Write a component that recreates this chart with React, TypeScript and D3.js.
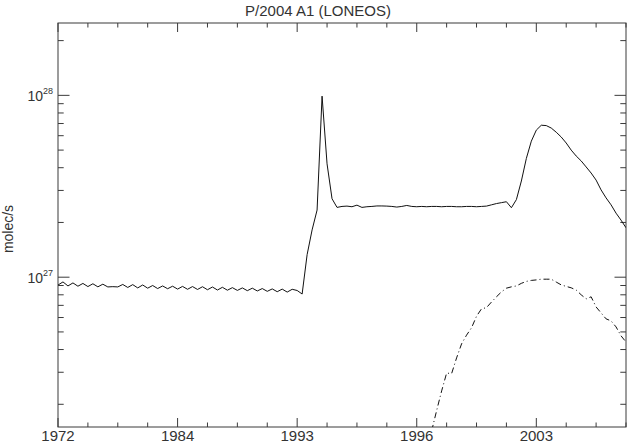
import { useEffect, useRef } from "react";
import * as d3 from "d3";

// production rates, in units of 1e27 molec/s, one sample per grid step
const UNIT = 1e27;
const solidValues = [
  0.905, 0.942, 0.895, 0.93, 0.892, 0.924, 0.888, 0.92, 0.885, 0.915,
  0.884, 0.887, 0.884, 0.912, 0.878, 0.91, 0.873, 0.906, 0.87, 0.9,
  0.866, 0.895, 0.864, 0.892, 0.86, 0.89, 0.858, 0.888, 0.856, 0.886,
  0.853, 0.883, 0.85, 0.88, 0.848, 0.876, 0.846, 0.873, 0.843, 0.87,
  0.84, 0.866, 0.836, 0.862, 0.832, 0.86, 0.828, 0.858, 0.845, 0.808,
  1.33, 1.82, 2.34, 9.9, 4.2, 2.7,
  2.42, 2.45, 2.46, 2.44, 2.49, 2.42, 2.44, 2.45, 2.465, 2.465, 2.46, 2.45,
  2.43, 2.45, 2.48, 2.45, 2.44,
  2.45, 2.44, 2.45, 2.45, 2.44, 2.45, 2.45, 2.44, 2.44, 2.45, 2.45, 2.44,
  2.45, 2.46,
  2.5, 2.54, 2.57, 2.6, 2.41,
  2.67, 3.38, 4.5, 5.6, 6.44, 6.85, 6.82, 6.61,
  6.27, 5.9, 5.47, 5.0, 4.64, 4.36, 4.04, 3.74, 3.42, 3.02, 2.73, 2.5, 2.25,
  2.06, 1.87,
];

const dashStart = 75;
const dashValues = [
  0.143, 0.185, 0.237, 0.297, 0.295, 0.36, 0.43, 0.48, 0.527, 0.61,
  0.67, 0.68, 0.73, 0.78, 0.83, 0.87, 0.885, 0.895, 0.925, 0.948,
  0.96, 0.966, 0.975, 0.975, 0.975, 0.94, 0.907, 0.89, 0.874, 0.85,
  0.8, 0.76, 0.78, 0.686, 0.636, 0.59, 0.575, 0.533, 0.476, 0.44,
];

const xTickIndex = [0, 24, 48, 72, 96];
const xTickLabels = ["1972", "1984", "1993", "1996", "2003"];
const xMinorStep = 6;
const yMajorExp = [27, 28];
const yDomain = [1.5e26, 2.5e28];

const App = () => {
  const svgRef = useRef<SVGSVGElement>(null);

  useEffect(() => {
    const width = 627;
    const height = 448;
    const left = 58;
    const right = 626;
    const top = 23;
    const bottom = 427;
    const font = "'Liberation Sans', Arial, sans-serif";
    const axisColor = "#3a3a3a";
    const textColor = "#333";

    const svg = d3.select(svgRef.current);
    svg.selectAll("*").remove();
    svg.attr("width", width).attr("height", height);

    const nPts = solidValues.length - 1;
    const xScale = d3.scaleLinear().domain([0, nPts]).range([left, right]);
    const yScale = d3.scaleLog().domain(yDomain).range([bottom, top]);

    svg
      .append("defs")
      .append("clipPath")
      .attr("id", "plotClip")
      .append("rect")
      .attr("x", left)
      .attr("y", top)
      .attr("width", right - left)
      .attr("height", bottom - top);

    // frame
    svg
      .append("rect")
      .attr("x", left)
      .attr("y", top)
      .attr("width", right - left)
      .attr("height", bottom - top)
      .attr("fill", "none")
      .attr("stroke", axisColor)
      .attr("stroke-width", 1);

    const ticks = svg.append("g").attr("stroke", axisColor).attr("stroke-width", 1);

    // x ticks, bottom and top, pointing inward
    const xMinor = d3.range(0, nPts + 1, xMinorStep);
    xMinor.forEach((i) => {
      const len = xTickIndex.includes(i) ? 9 : 4.5;
      const x = xScale(i);
      ticks.append("line").attr("x1", x).attr("x2", x).attr("y1", bottom).attr("y2", bottom - len);
      ticks.append("line").attr("x1", x).attr("x2", x).attr("y1", top).attr("y2", top + len);
    });

    // y ticks, left and right
    const yTicks: { v: number; major: boolean }[] = [];
    for (let e = 26; e <= 28; e++) {
      for (let k = 1; k <= 9; k++) {
        const v = k * Math.pow(10, e);
        if (v >= yDomain[0] && v <= yDomain[1]) yTicks.push({ v, major: k === 1 });
      }
    }
    yTicks.forEach((t) => {
      const len = t.major ? 11.5 : 5.7;
      const y = yScale(t.v);
      ticks.append("line").attr("x1", left).attr("x2", left + len).attr("y1", y).attr("y2", y);
      ticks.append("line").attr("x1", right).attr("x2", right - len).attr("y1", y).attr("y2", y);
    });

    // x labels
    svg
      .selectAll(".xlab")
      .data(xTickIndex)
      .enter()
      .append("text")
      .attr("x", (d) => xScale(d))
      .attr("y", 441)
      .attr("text-anchor", "middle")
      .attr("font-family", font)
      .attr("font-size", "15px")
      .attr("fill", textColor)
      .text((d, i) => xTickLabels[i]);

    // y labels as 10^n
    yMajorExp.forEach((e) => {
      const y = yScale(Math.pow(10, e));
      const t = svg
        .append("text")
        .attr("x", 53)
        .attr("y", y + 5.5)
        .attr("text-anchor", "end")
        .attr("font-family", font)
        .attr("font-size", "14px")
        .attr("fill", textColor);
      t.append("tspan").text("10");
      t.append("tspan").attr("font-size", "9px").attr("dy", -7).text(String(e));
    });

    svg
      .append("text")
      .attr("transform", `translate(13,229) rotate(-90)`)
      .attr("text-anchor", "middle")
      .attr("font-family", font)
      .attr("font-size", "14px")
      .attr("fill", textColor)
      .text("molec/s");

    svg
      .append("text")
      .attr("x", 318)
      .attr("y", 16)
      .attr("text-anchor", "middle")
      .attr("font-family", font)
      .attr("font-size", "15px")
      .attr("fill", textColor)
      .text("P/2004 A1 (LONEOS)");

    const plot = svg.append("g").attr("clip-path", "url(#plotClip)");

    const solidLine = d3
      .line<number>()
      .x((d, i) => xScale(i))
      .y((d) => yScale(d * UNIT));

    plot
      .append("path")
      .attr("d", solidLine(solidValues))
      .attr("fill", "none")
      .attr("stroke", "#111")
      .attr("stroke-width", 1);

    const dashLine = d3
      .line<number>()
      .x((d, i) => xScale(dashStart + i))
      .y((d) => yScale(d * UNIT));

    plot
      .append("path")
      .attr("d", dashLine(dashValues))
      .attr("fill", "none")
      .attr("stroke", "#111")
      .attr("stroke-width", 1)
      .attr("stroke-dasharray", "6,3,1,3");
  }, []);

  return (
    <svg
      ref={svgRef}
      style={{ position: "absolute", left: 0, top: 0, background: "#fff" }}
    ></svg>
  );
};

export default App;
